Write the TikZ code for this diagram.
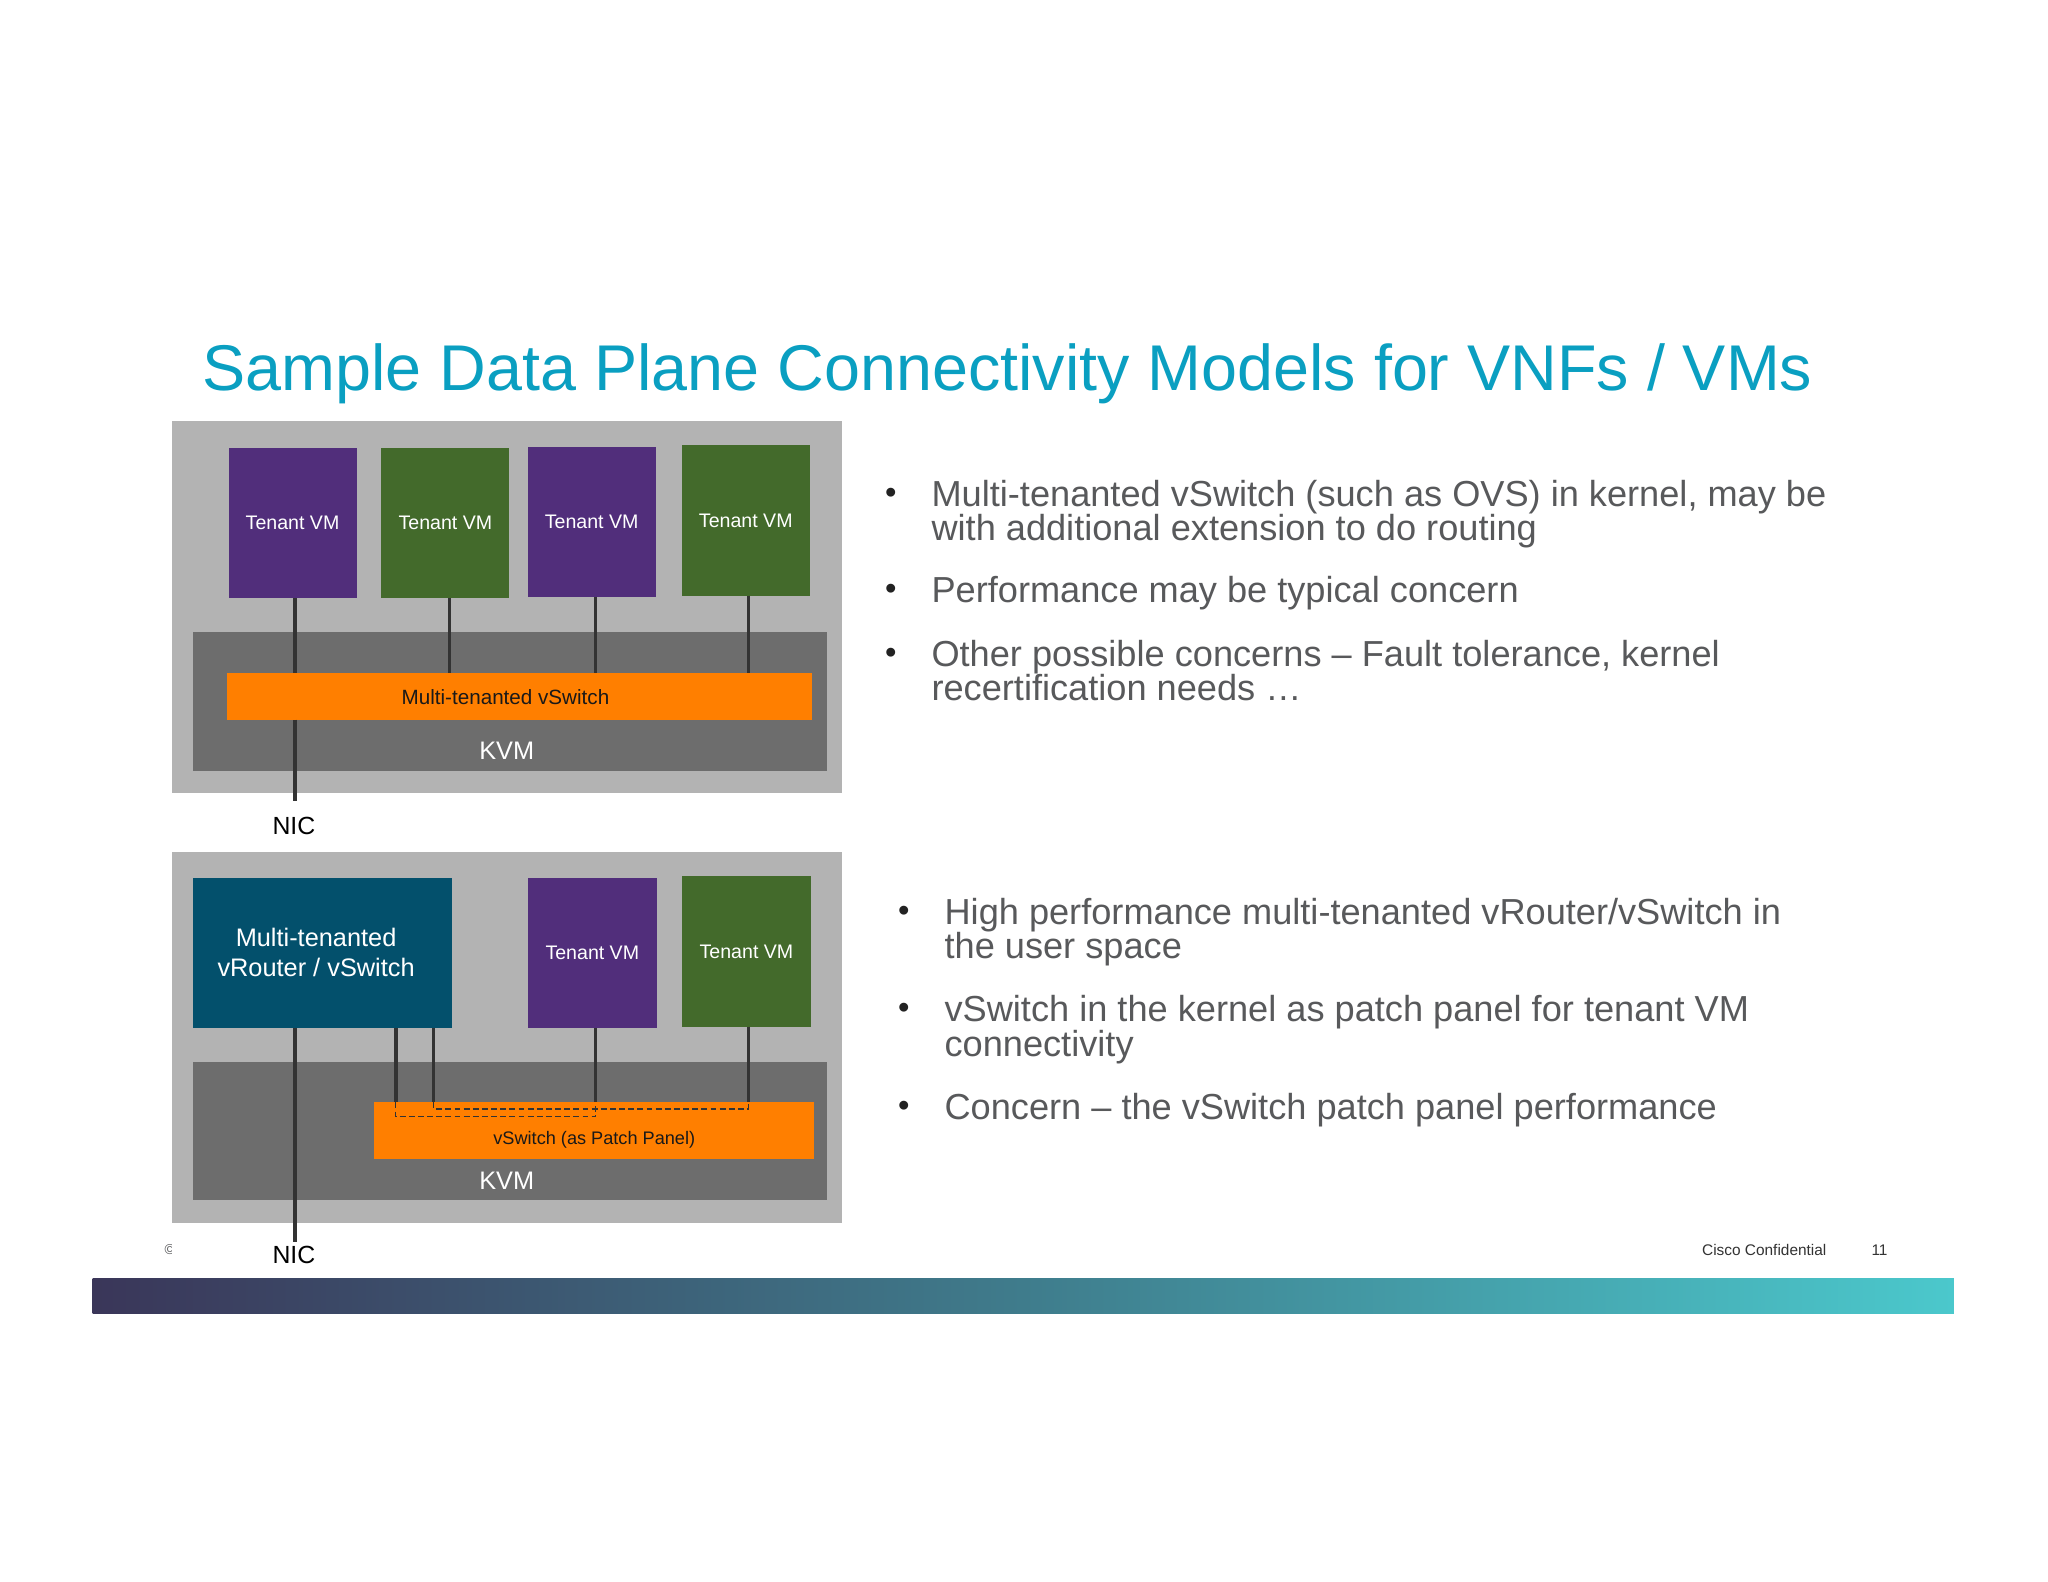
\documentclass[tikz,border=0pt]{standalone}
\usepackage{fontspec}
\setmainfont{Liberation Sans}
\definecolor{titleblue}{HTML}{0A9FC1}
\definecolor{outergray}{HTML}{B3B3B3}
\definecolor{kvmgray}{HTML}{6D6D6D}
\definecolor{vmorange}{HTML}{FF7F00}
\definecolor{vmpurple}{HTML}{512E7B}
\definecolor{vmgreen}{HTML}{436A2B}
\definecolor{routerteal}{HTML}{03506C}
\definecolor{wirecol}{HTML}{333333}
\definecolor{bodygray}{HTML}{58595B}
\definecolor{dotcol}{HTML}{222222}
\definecolor{barleft}{HTML}{3A3659}
\definecolor{barmid}{HTML}{3F7C8C}
\definecolor{barright}{HTML}{4BC8CC}
\newcommand\fsz[1]{\fontsize{#1}{#1}\selectfont}
\begin{document}
\begin{tikzpicture}[x=1pt,y=-1pt,
  box/.style={rectangle,draw=none,inner sep=0pt,outer sep=0pt},
  vmbox/.style={box,minimum width=98pt,minimum height=115pt,text=white,font=\fsz{15}},
  wire/.style={draw=wirecol,line width=2.7pt},
  patch/.style={draw=wirecol,line width=1pt,dash pattern=on 4.5pt off 2.5pt},
  btext/.style={anchor=base west,text=bodygray,font=\fsz{27.7},inner sep=0pt},
  bdot/.style={anchor=center,text=dotcol,font=\fsz{25},inner sep=0pt},
  lbl/.style={inner sep=0pt},
]
\useasboundingbox (0,0) rectangle (1568,1211);
\fill[white] (0,0) rectangle (1568,1211);

% title
\node[anchor=base west,inner sep=0pt,text=titleblue,font=\fsz{49.5}] (title) at (155,299)
  {Sample Data Plane Connectivity Models for VNFs / VMs};

% ---------- top diagram ----------
\node[box,fill=outergray,minimum width=513pt,minimum height=285pt] (outer1) at (388.5,464.5) {};
\node[box,fill=kvmgray,minimum width=485pt,minimum height=106pt] (kvm1) at (390.5,537) {};
\node[box,fill=vmorange,minimum width=448pt,minimum height=36pt] (sw1) at (398,533) {};
\node[lbl,font=\fsz{15.8},text=black!90] (sw1t) at (387,534) {Multi-tenanted vSwitch};
\node[lbl,font=\fsz{19.4},text=white] (kvm1t) at (388,575) {KVM};

\node[vmbox,fill=vmpurple] (vm1a) at (224,400.5) {Tenant VM};
\node[vmbox,fill=vmgreen]  (vm1b) at (341,400.5) {Tenant VM};
\node[vmbox,fill=vmpurple] (vm1c) at (453,399.5) {Tenant VM};
\node[vmbox,fill=vmgreen]  (vm1d) at (571,398.5) {Tenant VM};

\node[lbl,font=\fsz{19}] (nic1) at (225,632) {NIC};

\coordinate (p1) at ([xshift=2pt]vm1a.south);
\coordinate (p2) at ([xshift=3pt]vm1b.south);
\coordinate (p3) at ([xshift=3pt]vm1c.south);
\coordinate (p4) at ([xshift=2pt]vm1d.south);
\draw[wire] (p1) -- (p1 |- sw1.north);
\draw[wire] (p2) -- (p2 |- sw1.north);
\draw[wire] (p3) -- (p3 |- sw1.north);
\draw[wire] (p4) -- (p4 |- sw1.north);
\draw[wire,shorten >=12pt] (p1 |- sw1.south) -- (p1 |- nic1.north);

% ---------- bottom diagram ----------
\node[box,fill=outergray,minimum width=513pt,minimum height=284pt] (outer2) at (388.5,794) {};
\node[box,fill=kvmgray,minimum width=485pt,minimum height=106pt] (kvm2) at (390.5,866) {};
\node[box,fill=vmorange,minimum width=337pt,minimum height=43pt] (sw2) at (454.5,865.5) {};
\node[lbl,font=\fsz{13.9},text=black!90] (sw2t) at (455,873) {vSwitch (as Patch Panel)};
\node[lbl,font=\fsz{19.4},text=white] (kvm2t) at (388,904) {KVM};

\node[box,fill=routerteal,minimum width=198pt,minimum height=115pt] (router) at (247,729.5) {};
\node[lbl,align=center,text=white,font=\fontsize{19.4}{23}\selectfont] (routert) at (242,729.5)
  {Multi-tenanted\\vRouter / vSwitch};
\node[vmbox,fill=vmpurple,minimum width=99pt] (vm2a) at (453.5,729.5) {Tenant VM};
\node[vmbox,fill=vmgreen,minimum width=99pt]  (vm2b) at (571.5,728.5) {Tenant VM};

\node[lbl,font=\fsz{19}] (nic2) at (225,961) {NIC};

\coordinate (q0) at ([xshift=-21pt]router.south);
\coordinate (q1) at ([xshift=56pt]router.south);
\coordinate (q2) at ([xshift=85pt]router.south);
\coordinate (q3) at ([xshift=2.5pt]vm2a.south);
\coordinate (q4) at ([xshift=1.5pt]vm2b.south);
\draw[wire,shorten >=3pt] (q0) -- (q0 |- nic2.north);
\draw[wire] (q1) -- (q1 |- sw2.north);
\draw[wire] (q2) -- (q2 |- sw2.north);
\draw[wire] (q3) -- (q3 |- sw2.north);
\draw[wire] (q4) -- (q4 |- sw2.north);
\draw[patch] (q1 |- sw2.north) -- ++(0,11) -| (q3 |- sw2.north);
\draw[patch] (q2 |- sw2.north) -- ++(0,5) -| (q4 |- sw2.north);

% ---------- bullets top ----------
\node[bdot] (d1) at (682,380) {•};
\node[btext] (t1a) at (713,388) {Multi-tenanted vSwitch (such as OVS) in kernel, may be};
\node[btext] (t1b) at (713,414) {with additional extension to do routing};
\node[bdot] (d2) at (682,453) {•};
\node[btext] (t2a) at (713,461) {Performance may be typical concern};
\node[bdot] (d3) at (682,502) {•};
\node[btext] (t3a) at (713,510) {Other possible concerns – Fault tolerance, kernel};
\node[btext] (t3b) at (713,536) {recertification needs …};

% ---------- bullets bottom ----------
\node[bdot] (e1) at (692,700) {•};
\node[btext] (u1a) at (723,708) {High performance multi-tenanted vRouter/vSwitch in};
\node[btext] (u1b) at (723,734) {the user space};
\node[bdot] (e2) at (692,774) {•};
\node[btext] (u2a) at (723,782) {vSwitch in the kernel as patch panel for tenant VM};
\node[btext] (u2b) at (723,809) {connectivity};
\node[bdot] (e3) at (692,849) {•};
\node[btext] (u3a) at (723,857) {Concern – the vSwitch patch panel performance};

% ---------- footer ----------
\begin{scope}
\clip (120,945) rectangle (131.5,970);
\node[lbl,font=\fsz{11},text=bodygray] (copy) at (130,957) {©};
\end{scope}
\node[lbl,anchor=west,font=\fsz{11.8},text=wirecol] (conf) at (1303,957) {Cisco Confidential};
\node[lbl,font=\fsz{11.8},text=wirecol] (pnum) at (1439,957) {11};
\node[box,minimum width=1425pt,minimum height=27pt,left color=barleft,right color=barright,middle color=barmid] (bar) at (783.5,992.5) {};
\end{tikzpicture}
\end{document}
